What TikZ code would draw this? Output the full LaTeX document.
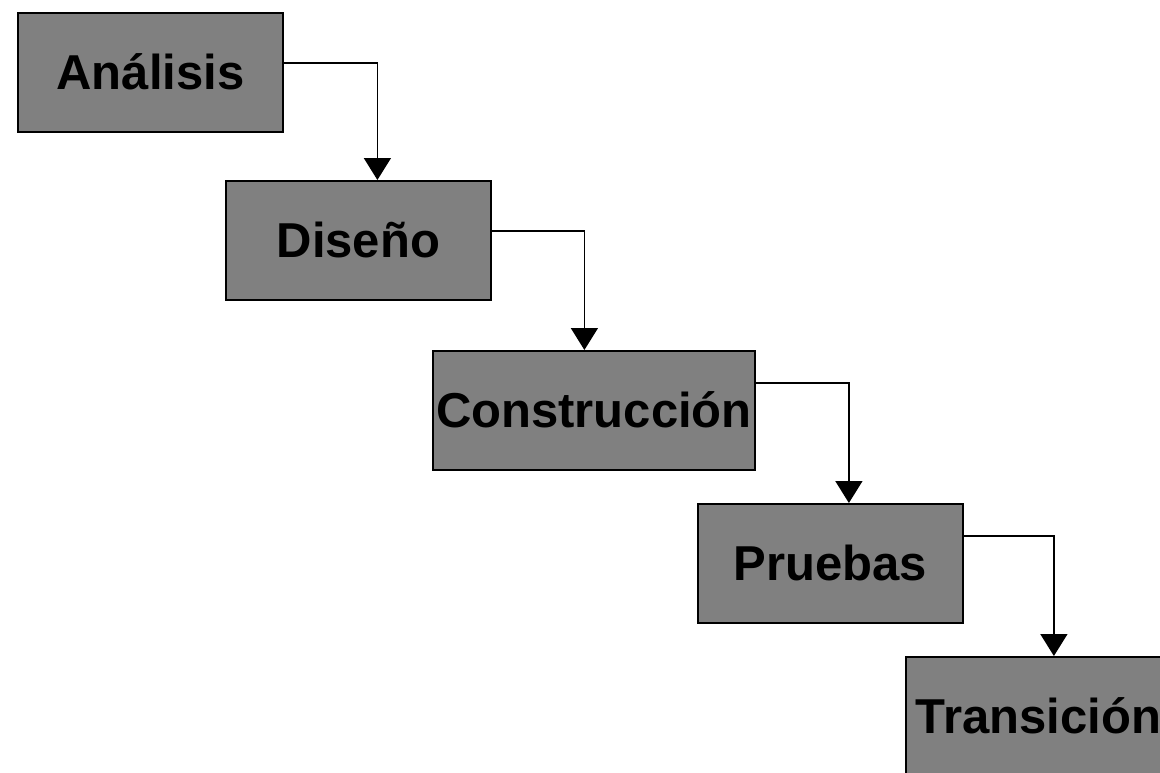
\documentclass[tikz,border=0pt]{standalone}
\usepackage{fontspec}
\setmainfont{Liberation Sans}
\usetikzlibrary{arrows.meta}
\definecolor{phasegray}{HTML}{808080}
\begin{document}
\begin{tikzpicture}[x=1pt,y=-1pt,
  phase/.style={draw=black, line width=1.8pt, fill=phasegray, anchor=north west,
    inner sep=0pt, minimum height=119pt, minimum width=265pt,
    text height=35pt, text depth=0pt,
    font=\fontsize{49}{49}\selectfont\bfseries},
  conn/.style={draw=black, line width=1.6pt,
    -{Triangle[width=27pt,length=22pt]}}]
\useasboundingbox (0,0) rectangle (1160,772);
\clip (0,0) rectangle (1160,772);
% waterfall phases
\node[phase] (ana) at (17,12) {Análisis};
\node[phase] (dis) at (225,180) {Diseño};
\node[phase, minimum width=322pt] (con) at (432,350) {Construcción};
\node[phase] (pru) at (697,503) {Pruebas};
\node[phase] (tra) at (905,656) {Transición};
% connectors between consecutive phases
\draw[conn] ([yshift=-51pt]ana.north east) -| ([xshift=19pt]dis.north);
\draw[conn] ([yshift=-51pt]dis.north east) -| ([xshift=-9.5pt]con.north);
\draw[conn] ([yshift=-33pt]con.north east) -| ([xshift=18.5pt]pru.north);
\draw[conn] ([yshift=-33pt]pru.north east) -| ([xshift=15.5pt]tra.north);
\end{tikzpicture}
\end{document}
